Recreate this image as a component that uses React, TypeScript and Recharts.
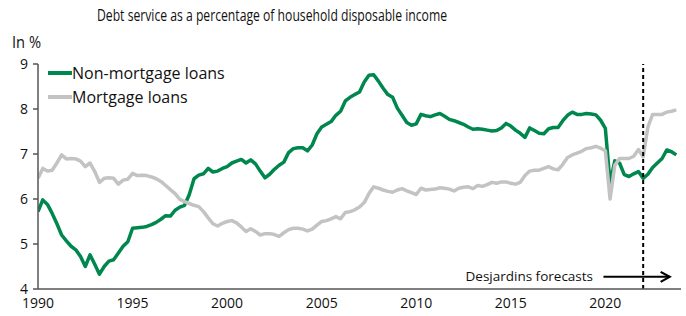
import React from "react";
import {
  LineChart,
  Line,
  XAxis,
  YAxis,
  ReferenceLine,
  ReferenceDot,
  Legend,
} from "recharts";

// Quarterly data, 1990Q1 .. 2023Q4 (forecast from 2022)
const START_YEAR = 1990;

const nonMortgage1990s = [
  5.72, 5.98, 5.88, 5.68, 5.45, 5.2, 5.07, 4.95, 4.87, 4.72, 4.5, 4.76, 4.55, 4.33, 4.5, 4.62,
  4.65, 4.8, 4.95, 5.05, 5.35, 5.36, 5.37, 5.39, 5.43, 5.48, 5.55, 5.63, 5.62, 5.75, 5.82, 5.86,
  6.1, 6.45, 6.53, 6.56, 6.68, 6.6, 6.62, 6.68,
];
const nonMortgage2000s = [
  6.72, 6.8, 6.84, 6.88, 6.8, 6.87, 6.78, 6.62, 6.47, 6.55, 6.66, 6.75, 6.82, 7.03, 7.12, 7.14,
  7.14, 7.07, 7.2, 7.45, 7.6, 7.66, 7.72, 7.86, 7.95, 8.18, 8.26, 8.32, 8.38, 8.6, 8.75, 8.76,
  8.62, 8.46, 8.32, 8.26, 8.02, 7.86, 7.7, 7.64,
];
const nonMortgage2010s = [
  7.67, 7.88, 7.85, 7.83, 7.87, 7.9, 7.84, 7.77, 7.74, 7.7, 7.66, 7.6, 7.55, 7.56, 7.55, 7.53,
  7.51, 7.52, 7.58, 7.68, 7.62, 7.53, 7.46, 7.37, 7.58, 7.52, 7.46, 7.45, 7.56, 7.59, 7.59, 7.74,
  7.86, 7.93, 7.88, 7.88, 7.9, 7.89, 7.87, 7.75,
];
const nonMortgage2020s = [
  7.57, 6.35, 6.85, 6.8, 6.54, 6.5, 6.56, 6.61, 6.46, 6.55, 6.7, 6.8, 6.9, 7.09, 7.05, 6.98,
];

const mortgage1990s = [
  6.46, 6.68, 6.62, 6.64, 6.8, 6.98, 6.89, 6.9, 6.89, 6.84, 6.72, 6.8, 6.61, 6.37, 6.46, 6.47,
  6.46, 6.33, 6.42, 6.44, 6.57, 6.52, 6.53, 6.52, 6.49, 6.45, 6.39, 6.3, 6.21, 6.12, 5.99, 5.94,
  5.9, 5.86, 5.83, 5.72, 5.58, 5.45, 5.4, 5.46,
];
const mortgage2000s = [
  5.5, 5.52, 5.47, 5.38, 5.28, 5.34, 5.28, 5.2, 5.23, 5.23, 5.21, 5.17, 5.25, 5.32, 5.35, 5.35,
  5.33, 5.29, 5.33, 5.42, 5.5, 5.52, 5.56, 5.61, 5.56, 5.7, 5.72, 5.76, 5.82, 5.92, 6.12, 6.27,
  6.24, 6.2, 6.17, 6.15, 6.2, 6.23, 6.18, 6.14,
];
const mortgage2010s = [
  6.1, 6.24, 6.2, 6.21, 6.22, 6.25, 6.24, 6.22, 6.18, 6.24, 6.26, 6.27, 6.23, 6.3, 6.28, 6.32,
  6.37, 6.35, 6.38, 6.38, 6.35, 6.33, 6.37, 6.52, 6.62, 6.64, 6.64, 6.68, 6.72, 6.67, 6.65, 6.77,
  6.92, 6.98, 7.02, 7.06, 7.12, 7.14, 7.17, 7.13,
];
const mortgage2020s = [
  7.07, 6.0, 6.75, 6.9, 6.9, 6.9, 6.95, 7.1, 6.94, 7.6, 7.88, 7.88, 7.88, 7.93, 7.95, 7.98,
];

const xTicks = [1990, 1995, 2000, 2005, 2010, 2015, 2020];
const yTicks = [4, 5, 6, 7, 8, 9];
const FORECAST_START = 2022;

const TITLE = "Debt service as a percentage of household disposable income";
const UNIT = "In %";
const FORECAST_LABEL = "Desjardins forecasts";
const SERIES = [
  { key: "nonMortgage", name: "Non-mortgage loans", color: "#00874E" },
  { key: "mortgage", name: "Mortgage loans", color: "#C3C3C3" },
];

const nonMortgage = [...nonMortgage1990s, ...nonMortgage2000s, ...nonMortgage2010s, ...nonMortgage2020s];
const mortgage = [...mortgage1990s, ...mortgage2000s, ...mortgage2010s, ...mortgage2020s];

const data = nonMortgage.map((v, i) => ({
  t: START_YEAR + i / 4,
  nonMortgage: v,
  mortgage: mortgage[i],
}));

const AXIS = "#555555";
const TICK_FONT = { fontFamily: "'Open Sans', sans-serif", fontSize: 14, fill: "#111" };

const LegendContent = () => (
  <div style={{ fontFamily: "'Open Sans', sans-serif", fontSize: 16, color: "#111", whiteSpace: "nowrap" }}>
    {SERIES.map((s) => (
      <div key={s.key} style={{ display: "flex", alignItems: "center", height: 24 }}>
        <span style={{ display: "inline-block", width: 24, height: 4, background: s.color }} />
        <span>{s.name}</span>
      </div>
    ))}
  </div>
);

const ArrowShape = (p: any) => {
  const { x1, y1, x2, y2 } = p;
  return (
    <g>
      <line x1={x1} y1={y1} x2={x2} y2={y2} stroke="#000" strokeWidth={2} />
      <polyline
        points={`${x2 - 9},${y2 - 5} ${x2},${y2} ${x2 - 9},${y2 + 5}`}
        fill="none"
        stroke="#000"
        strokeWidth={2.2}
      />
    </g>
  );
};

const LabelShape = (p: any) => (
  <text
    x={p.cx}
    y={p.cy}
    textAnchor="end"
    fontFamily="'Open Sans', sans-serif"
    fontSize={13.5}
    fill="#111"
  >
    {FORECAST_LABEL}
  </text>
);

export default function App() {
  return (
    <div style={{ position: "absolute", left: 0, top: 0, width: 686, height: 316, background: "#fff" }}>
      <svg width={686} height={316} style={{ position: "absolute", left: 0, top: 0 }}>
        <text
          x={272}
          y={21}
          textAnchor="middle"
          fontFamily="'Open Sans', sans-serif"
          fontSize={16}
          textLength={350}
          lengthAdjust="spacingAndGlyphs"
          fill="#111"
        >
          {TITLE}
        </text>
        <text
          x={12}
          y={48}
          fontFamily="'Open Sans', sans-serif"
          fontSize={16}
          textLength={29}
          lengthAdjust="spacingAndGlyphs"
          fill="#111"
        >
          {UNIT}
        </text>
      </svg>
      <div style={{ position: "absolute", left: 0, top: 0 }}>
        <LineChart
          width={686}
          height={316}
          data={data}
          margin={{ top: 64, right: 5, bottom: 0, left: 0 }}
        >
          <XAxis
            dataKey="t"
            type="number"
            domain={[1990, 2024]}
            ticks={xTicks}
            allowDataOverflow
            tickLine={false}
            axisLine={{ stroke: AXIS, strokeWidth: 1.5 }}
            tick={TICK_FONT}
            tickMargin={3}
            height={27}
            interval={0}
          />
          <YAxis
            type="number"
            domain={[4, 9]}
            ticks={yTicks}
            width={38}
            tickSize={5}
            tickMargin={5}
            tickLine={{ stroke: AXIS, strokeWidth: 1.5 }}
            axisLine={{ stroke: AXIS, strokeWidth: 1.5 }}
            tick={TICK_FONT}
            interval={0}
          />
          <Legend
            verticalAlign="middle"
            align="center"
            layout="vertical"
            content={<LegendContent />}
            wrapperStyle={{ position: "absolute", left: 48, top: 61, width: "auto", height: "auto" }}
          />
          {SERIES.map((s) => (
            <Line
              key={s.key}
              dataKey={s.key}
              name={s.name}
              type="linear"
              stroke={s.color}
              strokeWidth={3.5}
              dot={false}
              activeDot={false}
              isAnimationActive={false}
              strokeLinejoin="round"
            />
          ))}
          <ReferenceLine
            x={FORECAST_START}
            stroke="#000"
            strokeWidth={2}
            strokeDasharray="4 3"
          />
          <ReferenceLine
            segment={[
              { x: 2019.9, y: 4.27 },
              { x: 2023.4, y: 4.27 },
            ]}
            shape={ArrowShape}
          />
          <ReferenceDot x={2019.35} y={4.18} r={0} shape={LabelShape} />
        </LineChart>
      </div>
    </div>
  );
}
